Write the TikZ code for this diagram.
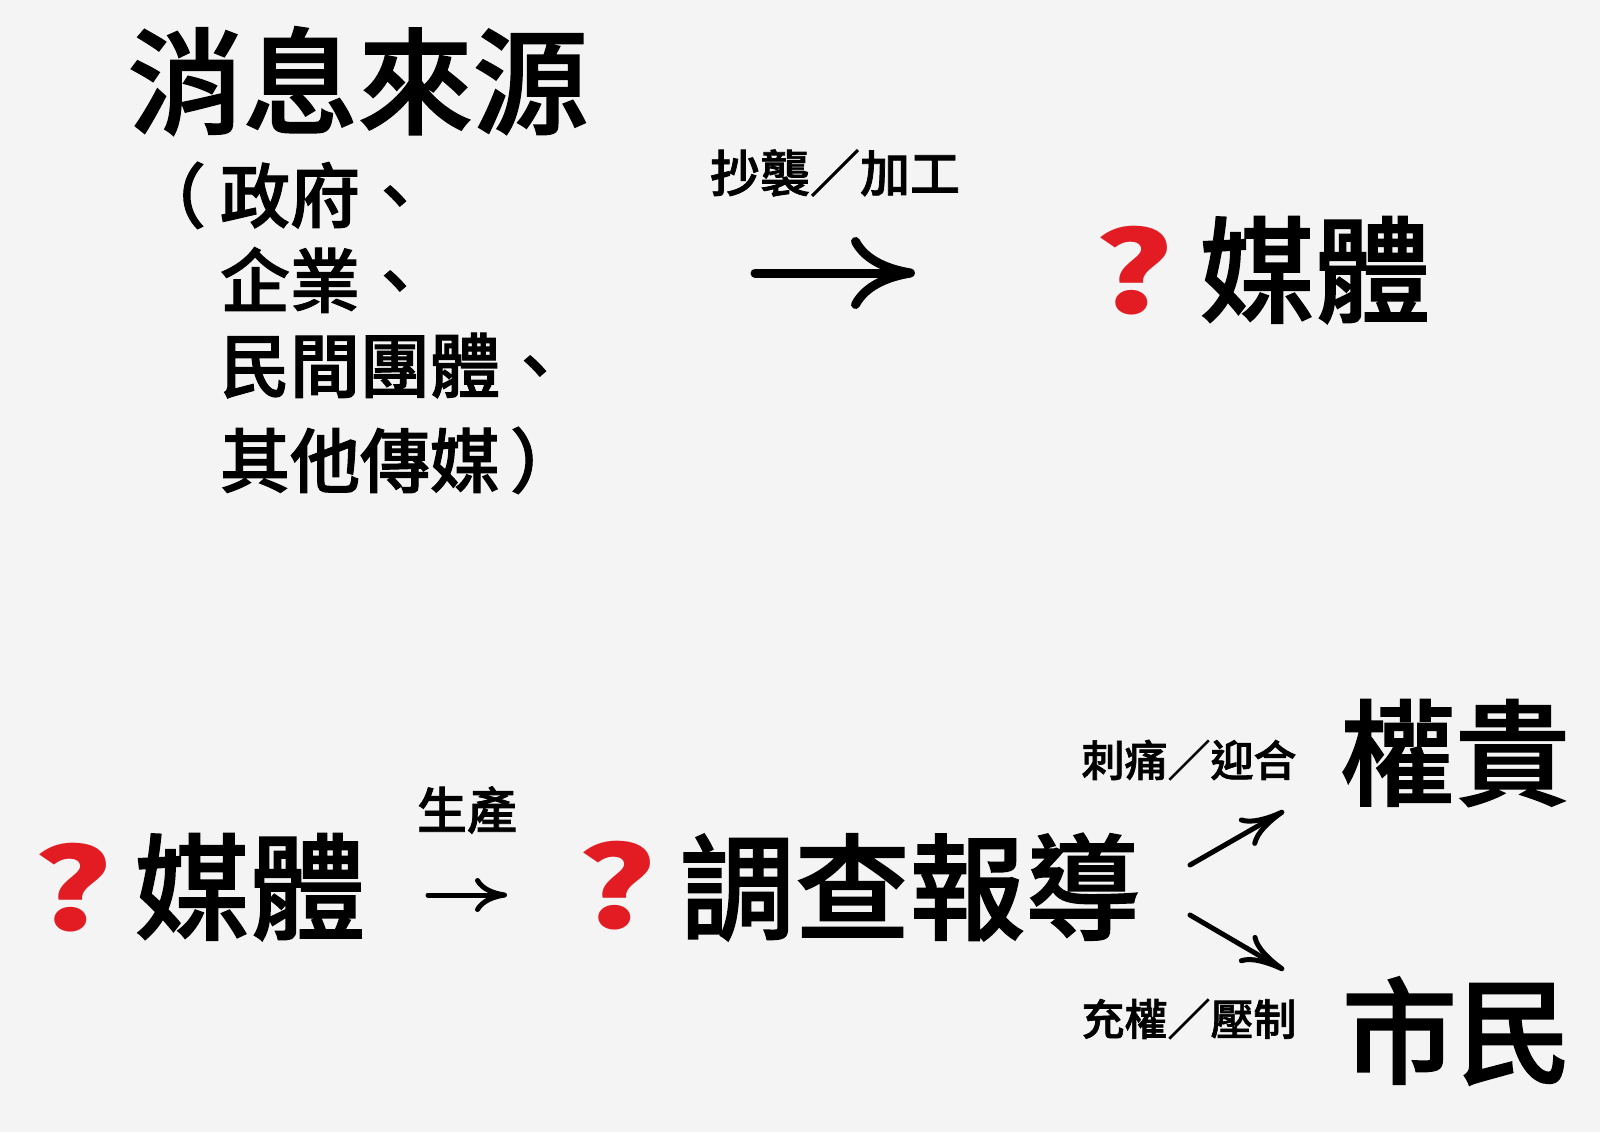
\documentclass[tikz,border=0pt]{standalone}
\usepackage{fontspec}
\IfFontExistsTF{Noto Sans CJK TC Medium}
  {\newfontfamily\cjk{Noto Sans CJK TC Medium}[FakeBold=1.5]}
  {\newfontfamily\cjk{Noto Sans CJK TC}[FakeBold=4]}
\newfontfamily\cjkq{Noto Sans CJK TC}
\usetikzlibrary{arrows.meta}
\definecolor{bg}{HTML}{F4F4F4}
\definecolor{qred}{HTML}{E31B23}
\tikzset{
  txt/.style={inner sep=0pt, outer sep=0pt, text=black},
  huge/.style={txt, font=\cjk\fontsize{115}{115}\selectfont},
  mid/.style={txt, anchor=base west, font=\cjk\fontsize{70}{70}\selectfont},
  lbl/.style={txt, font=\cjk\fontsize{50}{50}\selectfont},
  lbls/.style={txt, font=\cjk\fontsize{43}{43}\selectfont},
  qmark/.style={txt, text=qred, font=\cjkq\bfseries\fontsize{112}{112}\selectfont},
  arrbig/.style={line width=9pt, line cap=round, -{Computer Modern Rightarrow[length=64pt,width=72pt,line cap=round]}},
  arrsmall/.style={line width=5pt, line cap=round, -{Computer Modern Rightarrow[length=32pt,width=34pt,line cap=round]}},
  arrdiag/.style={line width=5pt, line cap=round, -{Computer Modern Rightarrow[length=44pt,width=32pt,line cap=round]}}
}
\begin{document}
\begin{tikzpicture}[x=1pt,y=-1pt]
\fill[bg] (0,0) rectangle (1600,1132);
\useasboundingbox (0,0) rectangle (1600,1132);

% top half
\node[huge] (src) at (358,81) {消息來源};
\node[mid] (l1) at (136,222) {（\kern14pt 政府、};
\node[mid] (l2) at (220,307) {企業、};
\node[mid] (l3) at (220,392) {民間團體、};
\node[mid] (l4) at (220,487) {其他傳媒\kern10pt ）};
\node[lbl] (copy) at (835,173) {抄襲／加工};
\coordinate (a1s) at (755,273);
\coordinate (a1e) at (915,273);
\draw[arrbig] (a1s) -- (a1e);
\node[qmark] (q1) at (1134,271) {\scalebox{1.35}[1]{?}};
\node[huge] (media1) at (1315,270) {媒體};

% bottom half
\node[qmark] (q2) at (73,888) {\scalebox{1.35}[1]{?}};
\node[huge] (media2) at (250,887) {媒體};
\node[lbl] (prod) at (467,810) {生產};
\coordinate (a2s) at (428,895);
\coordinate (a2e) at (507,895);
\draw[arrsmall] (a2s) -- (a2e);
\node[qmark] (q3) at (617,886) {\scalebox{1.35}[1]{?}};
\node[huge] (inv) at (910,887) {調查報導};

\coordinate (a3s) at (1190,865);
\coordinate (a3e) at (1284,811);
\draw[arrdiag] (a3s) -- (a3e);
\coordinate (a4s) at (1190,915);
\coordinate (a4e) at (1284,970);
\draw[arrdiag] (a4s) -- (a4e);

\node[lbls] (up) at (1189,760) {刺痛／迎合};
\node[lbls] (down) at (1189,1019) {充權／壓制};
\node[huge] (power) at (1455,753) {權貴};
\node[huge] (citizen) at (1457,1031) {市民};
\end{tikzpicture}
\end{document}
